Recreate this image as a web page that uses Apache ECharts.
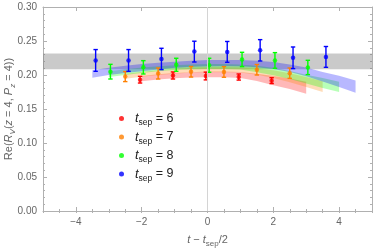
<!DOCTYPE html>
<html><head><meta charset="utf-8">
<script src="https://cdn.jsdelivr.net/npm/echarts@6/dist/echarts.min.js"></script>
<style>html,body{margin:0;padding:0;background:#fff}#c{width:374px;height:248px}</style>
</head><body><div id="c"></div>
<script>
// ---- tick labels ----
const xMajorTicks = [-4, -2, 0, 2, 4];
const tsepLabels = ['6', '7', '8', '9'];
const seriesNames = ['t6', 't7', 't8', 't9'];

// ---- data points (x, center, half error) ----
const x6 = [-2.05, -1.05, -0.05, 0.95, 1.95];
const y6 = [0.1931, 0.1993, 0.1985, 0.1970, 0.1917];
const e6 = [0.0049, 0.0052, 0.0057, 0.0045, 0.0043];

const x7 = [-2.5, -1.5, -0.5, 0.5, 1.5, 2.5];
const y7 = [0.1977, 0.2022, 0.2047, 0.2045, 0.2077, 0.2027];
const e7 = [0.0074, 0.0081, 0.0077, 0.0078, 0.0077, 0.0076];

const x8 = [-2.95, -1.95, -0.95, 0.05, 1.05, 2.05, 3.05];
const y8 = [0.2049, 0.2113, 0.2150, 0.2143, 0.2229, 0.2214, 0.2111];
const e8 = [0.0108, 0.0098, 0.0096, 0.0103, 0.0105, 0.0115, 0.0105];

const x9 = [-3.4, -2.4, -1.4, -0.4, 0.6, 1.6, 2.6, 3.6];
const y9 = [0.2214, 0.2214, 0.2236, 0.2344, 0.2340, 0.2363, 0.2253, 0.2266];
const e9 = [0.0160, 0.0160, 0.0157, 0.0153, 0.0153, 0.0157, 0.0159, 0.0153];

// ---- fit bands (x, upper, lower) ----
const b6x = [-2, -1.5, -1, -0.5, 0, 0.5, 1, 1.5, 2, 2.5, 3];
const b6u = [0.1986, 0.2010, 0.2030, 0.2042, 0.2050, 0.2052, 0.2045, 0.2020, 0.1986, 0.1950, 0.1900];
const b6l = [0.1907, 0.1932, 0.1952, 0.1962, 0.1968, 0.1968, 0.1955, 0.1910, 0.1850, 0.1795, 0.1726];

const b7x = [-2.5, -2, -1.5, -1, -0.5, 0, 0.5, 1, 1.5, 2, 2.5, 3, 3.5];
const b7u = [0.2020, 0.2045, 0.2070, 0.2090, 0.2105, 0.2115, 0.2115, 0.2110, 0.2095, 0.2070, 0.2025, 0.1970, 0.1907];
const b7l = [0.1946, 0.1975, 0.2000, 0.2020, 0.2035, 0.2042, 0.2042, 0.2035, 0.2005, 0.1957, 0.1895, 0.1824, 0.1750];

const b8x = [-3, -2.5, -2, -1.5, -1, -0.5, 0, 0.5, 1, 1.5, 2, 2.5, 3, 3.5, 4];
const b8u = [0.2055, 0.2085, 0.2110, 0.2130, 0.2145, 0.2155, 0.2160, 0.2160, 0.2155, 0.2135, 0.2105, 0.2060, 0.2005, 0.1955, 0.1900];
const b8l = [0.1970, 0.2000, 0.2030, 0.2055, 0.2072, 0.2085, 0.2090, 0.2090, 0.2082, 0.2040, 0.1996, 0.1940, 0.1875, 0.1810, 0.1750];

const b9x = [-3.5, -3, -2.5, -2, -1.5, -1, -0.5, 0, 0.5, 1, 1.5, 2, 2.5, 3, 3.5, 4, 4.5];
const b9u = [0.2070, 0.2105, 0.2135, 0.2160, 0.2180, 0.2195, 0.2210, 0.2220, 0.2222, 0.2220, 0.2210, 0.2190, 0.2155, 0.2110, 0.2045, 0.1990, 0.1920];
const b9l = [0.1960, 0.2000, 0.2030, 0.2055, 0.2080, 0.2105, 0.2120, 0.2130, 0.2132, 0.2128, 0.2115, 0.2090, 0.2045, 0.1980, 0.1905, 0.1825, 0.1740];

// ---- horizontal gray band ----
const grayBand = [0.2085, 0.2315];

const colors = ['#ff0000', '#ff8000', '#00ff00', '#0000ff'];
const pts = [[x6, y6, e6], [x7, y7, e7], [x8, y8, e8], [x9, y9, e9]];
const bands = [[b6x, b6u, b6l], [b7x, b7u, b7l], [b8x, b8u, b8l], [b9x, b9u, b9l]];

const chart = echarts.init(document.getElementById('c'), null, {renderer: 'canvas'});
const frame = '#b0b0b0';
const labelColor = '#666';
const fontFam = '"Liberation Sans", Arial, sans-serif';

const series = [];
series.push({
  type: 'line', data: [], silent: true,
  markArea: {silent: true, itemStyle: {color: 'rgba(128,128,128,0.42)'},
    data: [[{yAxis: grayBand[0]}, {yAxis: grayBand[1]}]]},
  markLine: {silent: true, symbol: 'none', label: {show: false},
    lineStyle: {color: '#d4d4d4', width: 1, type: 'solid'}, data: [{xAxis: 0}]}
});
bands.forEach((b, k) => {
  const [bx, bu, bl] = b;
  series.push({
    type: 'custom', silent: true, z: 2,
    data: bx.map((x, i) => [x, bl[i], bu[i]]),
    encode: {x: 0, y: [1, 2]},
    renderItem: (params, api) => {
      if (params.dataIndex !== 0) return null;
      const up = bx.map((x, i) => api.coord([x, bu[i]]));
      const lo = bx.map((x, i) => api.coord([x, bl[i]])).reverse();
      return {type: 'polygon', shape: {points: up.concat(lo)},
        style: {fill: colors[k], opacity: 0.28}};
    }
  });
});
pts.forEach((p, k) => {
  const [xs, ys, es] = p;
  series.push({
    type: 'custom', silent: true, z: 3,
    data: xs.map((x, i) => [x, ys[i] - es[i], ys[i] + es[i]]),
    encode: {x: 0, y: [1, 2]},
    renderItem: (params, api) => {
      const x = api.value(0);
      const a = api.coord([x, api.value(1)]);
      const b = api.coord([x, api.value(2)]);
      const st = {stroke: colors[k], lineWidth: 1.4};
      const w = 2.2;
      return {type: 'group', children: [
        {type: 'line', shape: {x1: a[0], y1: a[1], x2: b[0], y2: b[1]}, style: st},
        {type: 'line', shape: {x1: a[0] - w, y1: a[1], x2: a[0] + w, y2: a[1]}, style: st},
        {type: 'line', shape: {x1: b[0] - w, y1: b[1], x2: b[0] + w, y2: b[1]}, style: st}
      ]};
    }
  });
  series.push({
    name: seriesNames[k], type: 'scatter', z: 4,
    symbol: 'circle', symbolSize: 4.5,
    itemStyle: {color: colors[k]},
    data: xs.map((x, i) => [x, ys[i]])
  });
});

const majorX = (pos, show) => ({
  type: 'value', position: pos, min: -5, max: 5,
  axisLine: {show: true, onZero: false, lineStyle: {color: frame, width: 1}},
  axisTick: {show: true, inside: true, length: 4, customValues: xMajorTicks, lineStyle: {color: frame}},
  axisLabel: {show: show, customValues: xMajorTicks, margin: 6, color: labelColor, fontSize: 10, fontFamily: fontFam,
    formatter: v => (v < 0 ? '\u2212' + Math.abs(v) : '' + v)},
  splitLine: {show: false}
});
const minorX = (pos) => ({
  type: 'value', position: pos, min: -5, max: 5, interval: 0.5,
  axisLine: {show: false}, axisLabel: {show: false}, splitLine: {show: false},
  axisTick: {show: true, inside: true, length: 2, lineStyle: {color: frame}}
});
const yAx = (pos, show) => ({
  type: 'value', position: pos, min: 0, max: 0.3, interval: 0.05,
  axisLine: {show: true, onZero: false, lineStyle: {color: frame, width: 1}},
  axisTick: {show: true, inside: true, length: 4, lineStyle: {color: frame}},
  minorTick: {show: true, splitNumber: 5, length: 2, lineStyle: {color: frame}},
  axisLabel: {show: show, margin: 6, color: labelColor, fontSize: 10, fontFamily: fontFam,
    formatter: v => v.toFixed(2)},
  splitLine: {show: false}
});

const richLbl = {
  i: {fontStyle: 'italic', fontSize: 11, color: labelColor, fontFamily: fontFam, lineHeight: 16, verticalAlign: 'middle'},
  si: {fontSize: 8, fontStyle: 'italic', color: labelColor, fontFamily: fontFam, lineHeight: 8, verticalAlign: 'bottom'},
  s: {fontSize: 8, color: labelColor, fontFamily: fontFam, lineHeight: 8, verticalAlign: 'bottom'},
  n: {fontSize: 11, color: labelColor, fontFamily: fontFam, lineHeight: 16, verticalAlign: 'middle'}
};

const xa0 = majorX('bottom', true);
xa0.name = '{i|t}{n| \u2212 }{i|t}{s|sep}{n|/2}';
xa0.nameLocation = 'middle';
xa0.nameGap = 21;
xa0.nameTextStyle = {color: labelColor, fontFamily: fontFam, fontSize: 11, rich: richLbl};

chart.setOption({
  animation: false,
  backgroundColor: '#fff',
  grid: {left: 43, right: 2, top: 7, bottom: 37, containLabel: false, outerBoundsMode: 'none'},
  xAxis: [xa0, minorX('bottom'), majorX('top', false), minorX('top')],
  yAxis: [yAx('left', true), yAx('right', false)],
  graphic: [{
    type: 'text', x: 9, y: 109, rotation: Math.PI / 2, silent: true,
    style: {
      text: '{n|Re(}{i|R}{si|V}{n|(}{i|z}{n| = 4, }{i|P}{si|z}{n| = 4))}',
      align: 'center', verticalAlign: 'middle', rich: richLbl,
      fill: labelColor, fontSize: 11, fontFamily: fontFam
    }
  }],
  legend: {
    orient: 'vertical', left: 114, top: 107, itemGap: 3,
    icon: 'circle', itemWidth: 5, itemHeight: 5,
    data: seriesNames,
    formatter: name => '{i|t}{s|sep}{n| = ' + tsepLabels[seriesNames.indexOf(name)] + '}',
    textStyle: {padding: [0, 0, 0, 6], color: '#222', fontFamily: fontFam,
      rich: {
        i: {fontStyle: 'italic', fontSize: 13, color: '#222', fontFamily: fontFam, lineHeight: 18, verticalAlign: 'middle'},
        s: {fontSize: 8.5, color: '#222', fontFamily: fontFam, lineHeight: 9, verticalAlign: 'bottom'},
        n: {fontSize: 12.5, color: '#222', fontFamily: fontFam, lineHeight: 18, verticalAlign: 'middle'}
      }}
  },
  series: series
});
</script></body></html>
